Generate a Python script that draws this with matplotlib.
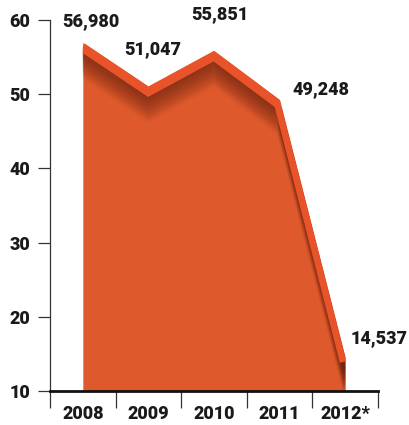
import numpy as np
import matplotlib
matplotlib.use('Agg')
import matplotlib.pyplot as plt

years = ['2008', '2009', '2010', '2011', '2012*']
values = [56.980, 51.047, 55.851, 49.248, 14.537]
value_labels = ['56,980', '51,047', '55,851', '49,248', '14,537']
y_ticks = [10, 20, 30, 40, 50, 60]

fill_color = '#DE592C'
edge_color = '#E8532A'
shadow_color = '#6E2410'

plt.rcParams['font.family'] = ['Roboto', 'DejaVu Sans']

fig = plt.figure(figsize=(4.1, 4.25), dpi=100)
ax = fig.add_axes([0.122, 0.08, 0.8, 0.873])

x = np.arange(len(years))
y = np.array(values)

body = ax.fill_between(x, 10, y, color=fill_color, linewidth=0, zorder=1)

# dark soft shadow under the top ribbon, kept inside the area
steps = np.linspace(1.2, 4.5, 14)
alphas = np.linspace(0.32, 0.03, 14)
for k, a in zip(steps, alphas):
    ln, = ax.plot(x, y - k, color=shadow_color, alpha=a, linewidth=4,
                  solid_joinstyle='round', zorder=2)
    ln.set_clip_path(body.get_paths()[0], ax.transData)

# top ribbon
rib, = ax.plot(x, y - 0.55, color=edge_color, linewidth=8, solid_joinstyle='miter',
               solid_capstyle='butt', zorder=3)
rib.set_clip_path(body.get_paths()[0], ax.transData)

# value labels (offsets in points)
offsets = [(6, 9), (3, 20), (4, 20), (9, 1), (4, 7)]
aligns = ['center', 'center', 'center', 'left', 'left']
for xi, yi, lab, off, ha in zip(x, y, value_labels, offsets, aligns):
    ax.annotate(lab, (xi, yi), xytext=off, textcoords='offset points',
                ha=ha, va='bottom', fontsize=13, fontweight='heavy',
                color='#1a1a1a', zorder=5, annotation_clip=False)

ax.set_xlim(-0.5, 4.5)
ax.set_ylim(10, 60)
ax.set_yticks(y_ticks)
ax.set_yticklabels([str(t) for t in y_ticks], fontsize=13, fontweight='heavy', color='#1a1a1a')
ax.set_xticks(x)
ax.set_xticklabels(years, fontsize=13, fontweight='heavy', color='#1a1a1a')
ax.set_xticks(np.arange(-0.5, 5.0, 1.0), minor=True)
ax.tick_params(axis='x', which='major', length=0, pad=10)
ax.tick_params(axis='x', which='minor', length=12, width=0.9, color='#333333', direction='out')
ax.tick_params(axis='y', length=9, width=0.9, color='#333333', direction='out', pad=5)

for s in ['top', 'right']:
    ax.spines[s].set_visible(False)
ax.spines['left'].set_color('#333333')
ax.spines['left'].set_linewidth(0.9)
ax.spines['bottom'].set_color('#111111')
ax.spines['bottom'].set_linewidth(2)
ax.spines['bottom'].set_zorder(6)

fig.savefig('out.png', dpi=100)
